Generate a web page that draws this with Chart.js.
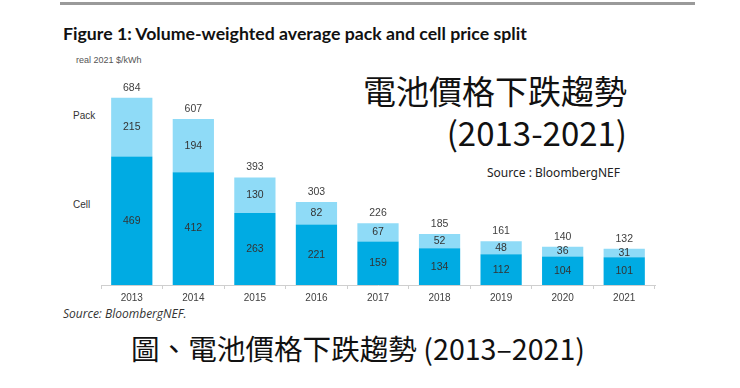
<!DOCTYPE html>
<html>
<head>
<meta charset="utf-8">
<script src="https://cdn.jsdelivr.net/npm/chart.js@4"></script>
<style>
  body { margin: 0; background: #fff; }
  #wrap { position: relative; width: 740px; height: 388px; overflow: hidden; }
  #wrap canvas { position: absolute; left: 0; top: 0; }
  .t { position: absolute; white-space: nowrap; }
</style>
</head>
<body>
<div id="wrap">
  <div class="t" style="left:60px;top:2px;width:635px;height:3px;background:#9a9a9a"></div>
  <div class="t" style="left:63px;top:23px;font:bold 17.7px Lato, sans-serif;color:#111">Figure 1: Volume-weighted average pack and cell price split</div>
  <div class="t" style="left:76px;top:55px;font:9px 'Liberation Sans', Arial, sans-serif;color:#555">real 2021 $/kWh</div>
  <div class="t" style="left:73px;top:110px;font:10px 'Liberation Sans', Arial, sans-serif;color:#333">Pack</div>
  <div class="t" style="left:73px;top:199px;font:10px 'Liberation Sans', Arial, sans-serif;color:#333">Cell</div>
  <div class="t" style="right:113px;top:66px;font:33px 'Noto Sans CJK TC', sans-serif;color:#111;line-height:48px">電池價格下跌趨勢</div>
  <div class="t" style="right:113px;top:108px;font:33px 'Noto Sans CJK TC', sans-serif;color:#111;line-height:48px">(2013-2021)</div>
  <div class="t" style="left:487px;top:164px;font:12px 'Noto Sans', sans-serif;color:#222">Source : BloombergNEF</div>
  <div class="t" style="left:63px;top:305px;font:italic 12px 'Open Sans', sans-serif;color:#333">Source: BloombergNEF.</div>
  <div class="t" style="left:131px;top:326px;font:28.6px 'Noto Sans CJK TC', sans-serif;color:#111;line-height:44px">圖、電池價格下跌趨勢 (2013–2021)</div>
  <canvas id="chart" width="740" height="388"></canvas>
</div>
<script>
// values, real 2021 $/kWh
var years = ['2013', '2014', '2015', '2016', '2017', '2018', '2019', '2020', '2021'];
var cell = [469, 412, 263, 221, 159, 134, 112, 104, 101];
var pack = [215, 194, 130, 82, 67, 52, 48, 36, 31];
var totals = [684, 607, 393, 303, 226, 185, 161, 140, 132];

var labelPlugin = {
	id: 'barLabels',
	afterDatasetsDraw: function (chart) {
		var ctx = chart.ctx;
		ctx.save();
		ctx.font = '10.5px "Liberation Sans", Arial, sans-serif';
		ctx.textAlign = 'center';
		ctx.textBaseline = 'middle';
		ctx.fillStyle = '#333';
		chart.data.datasets.forEach(function (ds, i) {
			chart.getDatasetMeta(i).data.forEach(function (bar, j) {
				ctx.fillText(ds.data[j], bar.x, (bar.y + bar.base) / 2);
			});
		});
		// totals above each stack
		ctx.fillStyle = '#404040';
		chart.getDatasetMeta(1).data.forEach(function (bar, j) {
			ctx.fillText(totals[j], bar.x, bar.y - 10);
		});
		ctx.restore();
	}
};

var ctx = document.getElementById('chart').getContext('2d');
var chart = new Chart(ctx, {
	type: 'bar',
	data: {
		labels: years,
		datasets: [{
			label: 'Cell',
			data: cell,
			backgroundColor: '#00abe3'
		}, {
			label: 'Pack',
			data: pack,
			backgroundColor: '#8fdbf7'
		}]
	},
	options: {
		responsive: false,
		animation: false,
		layout: { padding: { left: 101, right: 85, top: 66, bottom: 0 } },
		plugins: {
			legend: { display: false },
			tooltip: { enabled: false }
		},
		datasets: { bar: { barPercentage: 0.67, categoryPercentage: 1 } },
		scales: {
			x: {
				stacked: true,
				grid: { drawOnChartArea: false, drawTicks: true, tickLength: 4, color: '#cfcfcf', offset: true },
				border: { display: true, color: '#cfcfcf' },
				ticks: { color: '#404040', padding: 3, font: { family: '"Liberation Sans", Arial, sans-serif', size: 10 } },
				afterFit: function (scale) { scale.height = 103; }
			},
			y: {
				stacked: true,
				display: false,
				min: 0,
				max: 800
			}
		}
	},
	plugins: [labelPlugin]
});
</script>
</body>
</html>
